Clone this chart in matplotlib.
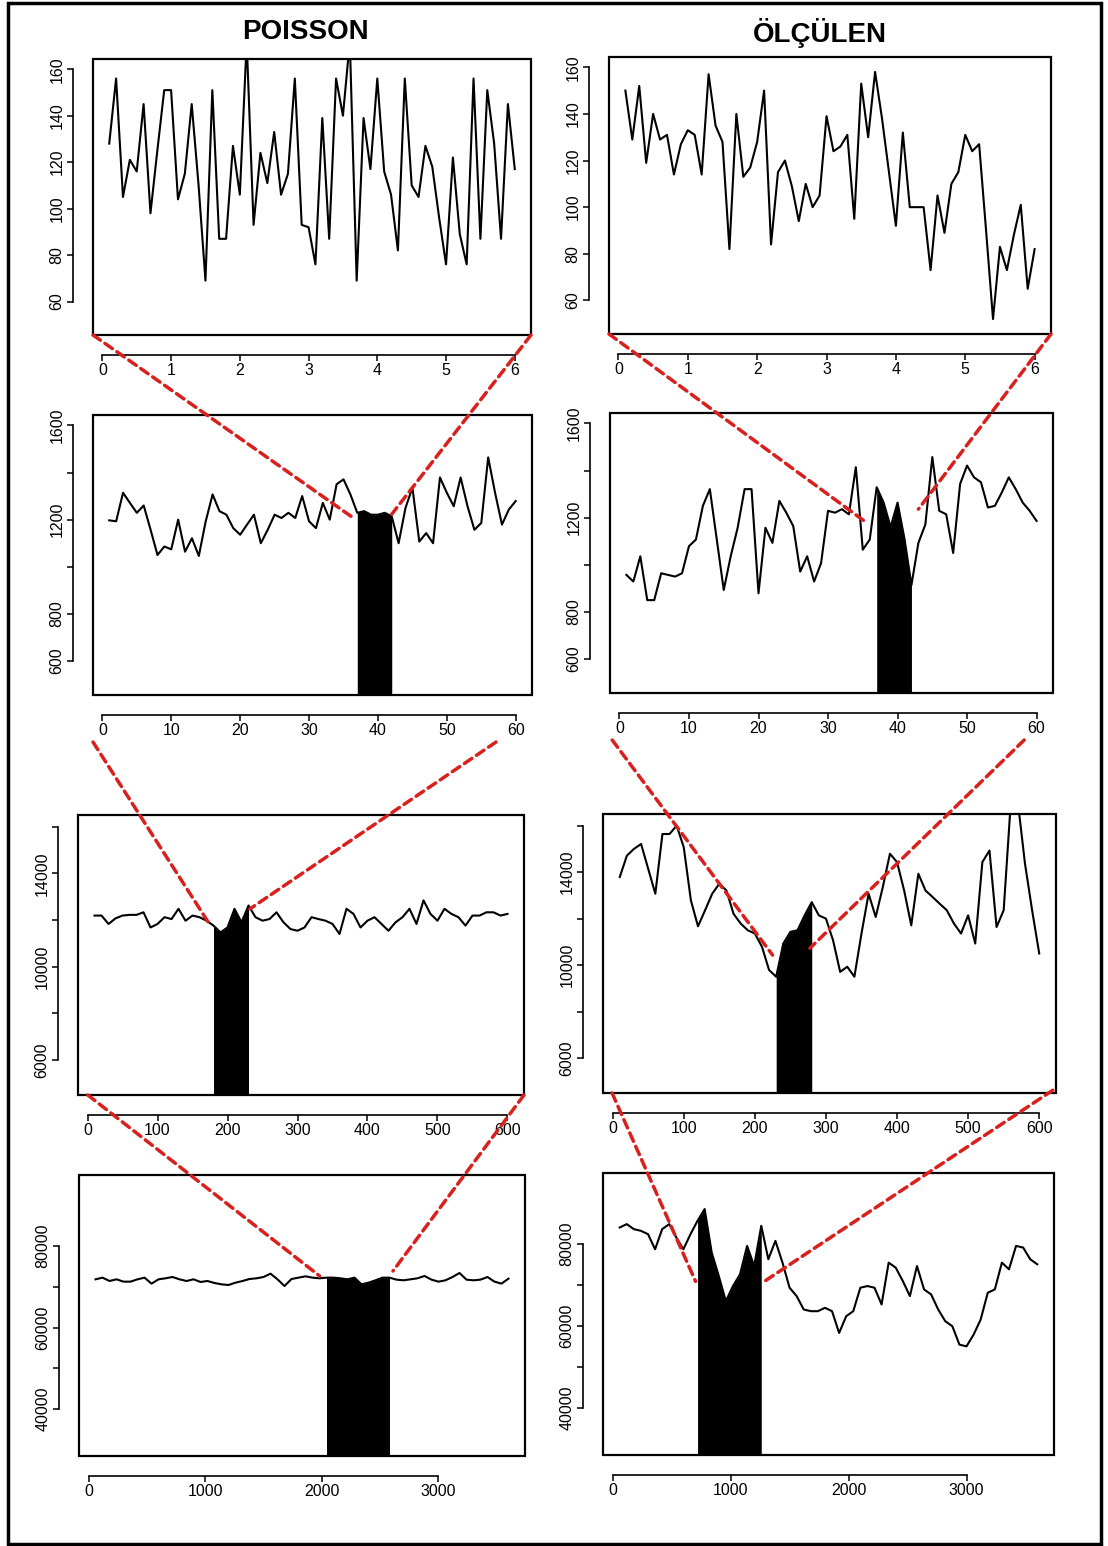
import numpy as np
import matplotlib
matplotlib.use("Agg")
import matplotlib.pyplot as plt
from matplotlib.patches import Rectangle, ConnectionPatch

plt.rcParams.update({"font.family": ["Liberation Sans", "DejaVu Sans"], "font.size": 11})

W, H = 1108, 1546
RED = "#d8201c"

# ---- zaman eksenleri (60 nokta) ----
t_6 = np.round(np.arange(1, 61) * 0.1, 1)
t_60 = np.arange(1, 61)
t_600 = np.arange(1, 61) * 10
t_3600 = np.arange(1, 61) * 60

# ---- POISSON ----
poi_6 = [128, 156, 105, 121, 116, 145, 98, 125, 151, 151,
         104, 115, 145, 110, 69, 151, 87, 87, 127, 106,
         172, 93, 124, 111, 133, 106, 115, 156, 93, 92,
         76, 139, 87, 156, 140, 172, 69, 139, 117, 156,
         116, 106, 82, 156, 110, 105, 127, 118, 96, 76,
         122, 89, 76, 156, 87, 151, 128, 87, 145, 117]
poi_60 = [1197, 1193, 1314, 1271, 1229, 1260, 1157, 1050, 1086, 1074,
          1200, 1064, 1121, 1046, 1193, 1307, 1236, 1221, 1164, 1136,
          1179, 1221, 1100, 1157, 1221, 1207, 1229, 1207, 1300, 1193,
          1164, 1271, 1200, 1350, 1371, 1307, 1229, 1236, 1221, 1221,
          1229, 1214, 1100, 1250, 1336, 1107, 1143, 1100, 1379, 1314,
          1257, 1379, 1257, 1157, 1186, 1464, 1314, 1179, 1243, 1279]
poi_600 = [12190, 12190, 11830, 12070, 12190, 12220, 12220, 12330, 11680, 11830,
           12120, 12040, 12480, 11970, 12190, 12120, 11970, 11760, 11470, 11680,
           12480, 11900, 12620, 12120, 11970, 12040, 12330, 11900, 11610, 11540,
           11680, 12120, 12040, 11970, 11830, 11400, 12480, 12260, 11680, 11970,
           12120, 11830, 11540, 11900, 12120, 12480, 11830, 12840, 12260, 11970,
           12480, 12260, 12120, 11760, 12190, 12190, 12330, 12330, 12190, 12260]
poi_3600 = [71820, 72230, 71410, 71820, 71250, 71250, 71820, 72230, 70760, 71820,
            72070, 72390, 71820, 71410, 71820, 71170, 71410, 70920, 70590, 70430,
            71000, 71410, 71900, 72070, 72390, 73210, 71820, 70180, 71900, 72230,
            72560, 72230, 72070, 72230, 72230, 72070, 71820, 72230, 70590, 71000,
            71580, 72230, 72230, 71740, 71580, 71820, 72070, 72640, 71740, 71250,
            71580, 72390, 73370, 71740, 71580, 71740, 72390, 71250, 70760, 71980]

# ---- ÖLÇÜLEN ----
olc_6 = [150, 129, 152, 119, 140, 129, 131, 114, 127, 133,
         131, 114, 157, 135, 128, 82, 140, 113, 117, 128,
         150, 84, 115, 120, 109, 94, 110, 100, 105, 139,
         124, 126, 131, 95, 153, 130, 158, 138, 115, 92,
         132, 100, 100, 100, 73, 105, 89, 110, 115, 131,
         124, 127, 90, 52, 83, 73, 88, 101, 65, 82]
olc_60 = [957, 929, 1036, 850, 850, 964, 957, 950, 964, 1079,
          1107, 1250, 1321, 1107, 893, 1036, 1157, 1321, 1321, 879,
          1157, 1093, 1271, 1221, 1164, 971, 1036, 929, 1007, 1229,
          1221, 1236, 1214, 1414, 1064, 1107, 1329, 1264, 1160, 1264,
          1110, 914, 1093, 1171, 1457, 1229, 1214, 1050, 1343, 1421,
          1371, 1350, 1243, 1250, 1307, 1371, 1321, 1264, 1229, 1186]
olc_600 = [13790, 14710, 15000, 15210, 14140, 13070, 15640, 15640, 16000, 15070,
           12790, 11670, 12360, 13070, 13500, 13210, 12210, 11790, 11500, 11360,
           10790, 9790, 9500, 10930, 11430, 11500, 12140, 12710, 12140, 12000,
           11070, 9710, 9930, 9500, 11360, 13070, 12070, 13360, 14790, 14430,
           13210, 11710, 13930, 13210, 12930, 12640, 12360, 11790, 11360, 12140,
           10930, 14430, 14930, 11640, 12360, 17000, 17000, 14360, 12360, 10500]
olc_3600 = [84090, 84910, 83680, 83270, 82450, 78770, 83680, 84910, 81640, 78770,
            82450, 85730, 88590, 77960, 72230, 66090, 69780, 72640, 79590, 74680,
            84500, 76320, 80820, 75500, 69370, 67320, 64050, 63640, 63640, 64460,
            63640, 58320, 62410, 63640, 69370, 69780, 69370, 65280, 75500, 74270,
            71000, 67320, 74680, 68960, 67730, 64050, 61190, 59960, 55460, 55050,
            57910, 61600, 68140, 68960, 75500, 73870, 79590, 79180, 76320, 75090]

# siyah (alt pencere) aralıkları: seri indeksi [başlangıç, bitiş]
fill_poi = [None, (36, 41), (17, 22), (33, 42)]
fill_olc = [None, (36, 41), (22, 27), (11, 20)]

# eksen ayarları (satır başına)
xlims = [(-0.136, 6.236), (-1.36, 62.36), (-13.6, 623.6), (-81.6, 3741.6)]
ylims = [(45.6, 164.4), (456, 1644), (4500, 16500), (28500, 97400)]
xticks = [[0, 1, 2, 3, 4, 5, 6], [0, 10, 20, 30, 40, 50, 60],
          [0, 100, 200, 300, 400, 500, 600], [0, 1000, 2000, 3000]]
yticks = [[60, 80, 100, 120, 140, 160], [600, 800, 1000, 1200, 1400, 1600],
          [6000, 8000, 10000, 12000, 14000, 16000], [40000, 50000, 60000, 70000, 80000]]
ylabels = [["60", "80", "100", "120", "140", "160"], ["600", "800", "", "1200", "", "1600"],
           ["6000", "", "10000", "", "14000", ""], ["40000", "", "60000", "", "80000"]]

# panel kutuları (piksel: sol, üst, sağ, alt)
boxes = {(0, 0): (93, 59, 531, 335), (0, 1): (609, 57, 1051, 334),
         (1, 0): (93, 415, 532, 695), (1, 1): (610, 413, 1053, 693),
         (2, 0): (78, 815, 524, 1095), (2, 1): (603, 814, 1056, 1093),
         (3, 0): (79, 1175, 525, 1456), (3, 1): (603, 1173, 1054, 1455)}

# kırmızı yakınlaştırma çizgileri: üst panelde (eksen oranı) -> alt panelde (veri)
links = {0: [((0, 0), (36.1, 1214)), ((1, 0), (42.0, 1223)),
             ((0.0, -0.168), (176, 11741)), ((0.918, -0.168), (232, 12475)),
             ((0.022, 0), (1981, 72638)), ((1.0, 0), (2610, 73865))],
         1: [((0, 0), (35.3, 1184)), ((1, 0), (43.0, 1236)),
             ((0.005, -0.168), (225, 10429)), ((0.935, -0.168), (277.5, 10729)),
             ((0.02, 0), (703, 70920)), ((0.993, 0.01), (1286, 70920))]}

times = [t_6, t_60, t_600, t_3600]
series = {0: [poi_6, poi_60, poi_600, poi_3600], 1: [olc_6, olc_60, olc_600, olc_3600]}
fills = {0: fill_poi, 1: fill_olc}

fig = plt.figure(figsize=(W / 100, H / 100), dpi=100)
axes = {}
for (r, c), (l, t, rr, b) in boxes.items():
    ax = fig.add_axes([l / W, 1 - b / H, (rr - l) / W, (b - t) / H])
    x = np.asarray(times[r])
    y = np.asarray(series[c][r], dtype=float)
    ax.plot(x, y, color="black", lw=1.5)
    fr = fills[c][r]
    if fr is not None:
        i0, i1 = fr
        ax.fill_between(x[i0:i1 + 1], y[i0:i1 + 1], ylims[r][0], color="black", lw=0)
    ax.set_xlim(xlims[r]); ax.set_ylim(ylims[r])
    for s in ("top", "right"):
        ax.spines[s].set_visible(False)
    for s in ("left", "bottom"):
        ax.spines[s].set_position(("outward", 14.4))
        ax.spines[s].set_linewidth(1.2)
    ax.spines["left"].set_bounds(yticks[r][0], yticks[r][-1])
    ax.spines["bottom"].set_bounds(xticks[r][0], xticks[r][-1])
    ax.set_xticks(xticks[r])
    ax.set_yticks(yticks[r])
    ax.set_yticklabels(ylabels[r])
    ax.tick_params(length=4, width=1.1, pad=2, labelsize=11.5)
    ax.tick_params(axis="y", labelrotation=90)
    for lab in ax.get_yticklabels():
        lab.set_verticalalignment("center")
    ax.add_patch(Rectangle((0, 0), 1, 1, transform=ax.transAxes, fill=False,
                           lw=1.6, ec="black", clip_on=False, zorder=5))
    axes[(r, c)] = ax

for c, lst in links.items():
    for k, (start, end) in enumerate(lst):
        row = k // 2
        con = ConnectionPatch(xyA=start, coordsA=axes[(row, c)].transAxes,
                              xyB=end, coordsB=axes[(row + 1, c)].transData,
                              color=RED, lw=2.5, ls=(0, (2.6, 1.6)), zorder=10)
        fig.add_artist(con)

fig.text(305 / W, 1 - 32 / H, "POISSON", ha="center", va="center",
         fontsize=20, fontweight="bold")
fig.text(820 / W, 1 - 33 / H, "ÖLÇÜLEN", ha="center", va="center",
         fontsize=20, fontweight="bold")

fig.add_artist(Rectangle((8 / W, 1 - 1544 / H), 1093 / W, 1541 / H,
                         transform=fig.transFigure, fill=False, lw=2.5, ec="black"))

fig.savefig("out.png", dpi=100)
